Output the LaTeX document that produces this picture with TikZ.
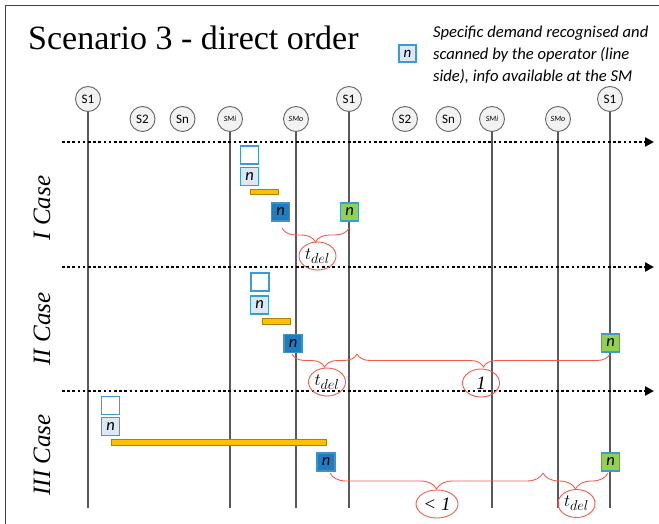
\documentclass[tikz,border=0pt]{standalone}
\usepackage{fontspec}
\setmainfont{Liberation Serif}
\newfontfamily\calib{Carlito}
\usetikzlibrary{decorations.pathreplacing,arrows.meta,shapes.geometric}
\definecolor{boxblue}{HTML}{3A9BD5}
\definecolor{lightfill}{HTML}{DCE9F5}
\definecolor{darkfill}{HTML}{1F7CBE}
\definecolor{greenfill}{HTML}{92D050}
\definecolor{barfill}{HTML}{FFC000}
\definecolor{bardraw}{HTML}{B08000}
\definecolor{bracered}{HTML}{F25C4C}
\begin{document}
\begin{tikzpicture}[x=1pt,y=-1pt,
  lifeline/.style={draw=black!65, line width=1.2pt},
  station/.style={circle, draw=black!60, fill=black!5, line width=0.9pt, minimum size=25pt, inner sep=0pt, font=\calib\fontsize{13}{13}\selectfont},
  smst/.style={station, font=\calib\itshape\fontsize{8}{8}\selectfont},
  timeline/.style={line width=2.6pt, dash pattern=on 2.6pt off 2.6pt, -{Triangle[length=9pt,width=9pt]}},
  boxbase/.style={draw=boxblue, line width=1.2pt, minimum width=18pt, minimum height=18pt, inner sep=0pt, font=\calib\itshape\fontsize{16.5}{16.5}\selectfont},
  emptybox/.style={boxbase, fill=white},
  nbox/.style={boxbase, fill=lightfill},
  dbox/.style={boxbase, fill=darkfill, draw=darkfill!85!white},
  gbox/.style={boxbase, fill=greenfill},
  bar/.style={fill=barfill, draw=bardraw, line width=0.6pt},
  bracestyle/.style={draw=bracered, line width=0.9pt, decorate, decoration={brace, mirror, amplitude=#1}},
  tlabel/.style={ellipse, draw=bracered, line width=0.9pt, minimum width=37pt, minimum height=28pt, inner sep=0pt, font=\fontsize{19}{19}\selectfont},
  caselbl/.style={rotate=90, font=\itshape\fontsize{25}{25}\selectfont}
]
\useasboundingbox (0,0) rectangle (659,524);
% frame
\draw[line width=1.5pt, black!75] (5.5,524) -- (5.5,5.5) -- (659,5.5);
% title and legend
\node[anchor=base west, inner sep=0pt, font=\fontsize{34}{34}\selectfont] (title) at (28,50) {Scenario 3 - direct order};
\node[nbox, minimum width=17pt, minimum height=17pt, font=\calib\itshape\fontsize{15}{15}\selectfont] (legbox) at (407.5,53.5) {n};
\node[anchor=west, align=left, inner sep=0pt, font=\calib\itshape\fontsize{16.6}{22}\selectfont] (legtext) at (433,55) {Specific demand recognised and\\scanned by the operator (line\\side), info available at the SM};
% stations
\node[station] (s1a) at (88,99) {S1};
\node[station] (s2a) at (142.5,119) {S2};
\node[station] (sna) at (182.5,119) {Sn};
\node[smst] (smia) at (230,119) {SMi};
\node[smst] (smoa) at (296,119) {SMo};
\node[station] (s1b) at (349,99) {S1};
\node[station] (s2b) at (405,119) {S2};
\node[station] (snb) at (448.5,119) {Sn};
\node[smst] (smib) at (492,119) {SMi};
\node[smst] (smob) at (558,119) {SMo};
\node[station] (s1c) at (610,99) {S1};
\coordinate (bottom) at (0,508);
\foreach \n in {s1a,smia,smoa,s1b,smib,smob,s1c}
  \draw[lifeline] (\n.south) -- (\n.south |- bottom);
% time lines
\coordinate (t1s) at (62,142); \coordinate (t1e) at (654,142);
\coordinate (t2s) at (62,267); \coordinate (t2e) at (654,267);
\coordinate (t3s) at (62,391); \coordinate (t3e) at (654,391);
\draw[timeline] (t1s) -- (t1e);
\draw[timeline] (t2s) -- (t2e);
\draw[timeline] (t3s) -- (t3e);
% case labels
\node[caselbl] (c1) at (42,208) {I Case};
\node[caselbl] (c2) at (42,329) {II Case};
\node[caselbl] (c3) at (42,455) {III Case};
% ---- Case I
\node[emptybox] (e1) at (249.5,155) {};
\node[nbox] (n1) at (249.5,176.5) {n};
\draw[bar] (250.5,189) rectangle (278,194.5);
\node[dbox] (d1) at (280.5,212) {n};
\node[gbox] (g1) at (349.5,212) {n};
\coordinate (b1l) at (282,228); \coordinate (b1r) at (349,228);
\draw[bracestyle=14pt] (b1l) -- (b1r);
\node[tlabel] (l1) at (317.5,256) {$t_{del}$};
% ---- Case II
\node[emptybox] (e2) at (260,282) {};
\node[nbox] (n2) at (259.5,305) {n};
\draw[bar] (262,318) rectangle (290,324);
\node[dbox] (d2) at (293,343.5) {n};
\node[gbox] (g2) at (610.5,343) {n};
\coordinate (b2l) at (292,354); \coordinate (b2m) at (357,354); \coordinate (b2r) at (610,354);
\draw[bracestyle=13pt] (b2l) -- (b2m);
\draw[bracestyle=13pt] (b2m) -- (b2r);
\node[tlabel] (l2) at (327,382) {$t_{del}$};
\node[tlabel, font=\itshape\fontsize{19}{19}\selectfont] (l3) at (481,383) {1};
% ---- Case III
\node[emptybox] (e3) at (110.5,405.5) {};
\node[nbox] (n3) at (110.5,426.5) {n};
\draw[bar] (111,439) rectangle (326,445);
\node[dbox] (d3) at (326,462) {n};
\node[gbox] (g3) at (610.5,462) {n};
\coordinate (b3l) at (330,473); \coordinate (b3m) at (543,473); \coordinate (b3r) at (608,473);
\draw[bracestyle=16pt] (b3l) -- (b3m);
\draw[bracestyle=16pt] (b3m) -- (b3r);
\node[tlabel, minimum width=42pt, font=\itshape\fontsize{19}{19}\selectfont] (l4) at (437,504) {< 1};
\node[tlabel] (l5) at (576.5,503.5) {$t_{del}$};
\end{tikzpicture}
\end{document}
